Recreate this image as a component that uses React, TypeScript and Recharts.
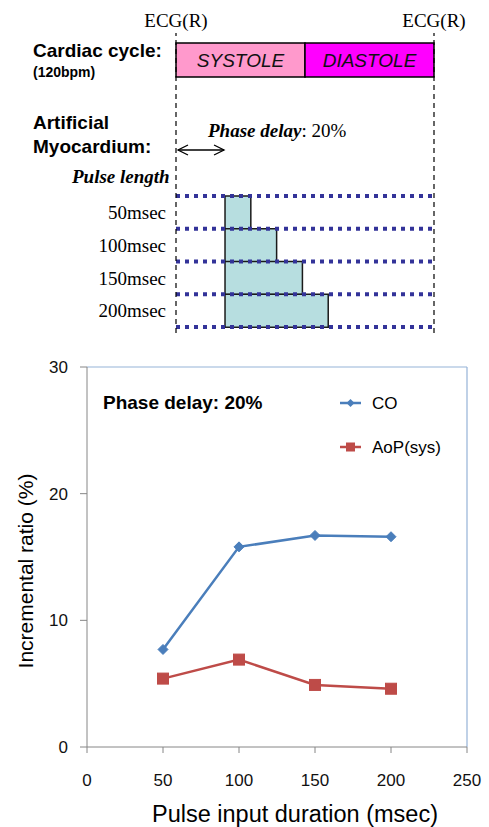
import React from 'react';
import {
  BarChart, Bar, XAxis, YAxis, ReferenceLine, LabelList, LineChart, Line, Legend,
  ComposedChart, Label,
} from 'recharts';

// ---------- diagram data ----------
const cyclePhaseNames = ['SYSTOLE', 'DIASTOLE'];
const cyclePhaseMs = [250, 250];
const cycleLengthMs = 500;
const phaseDelayMs = 95;
const pulseLabels = ['50msec', '100msec', '150msec', '200msec'];
const pulseLengthsMs = [50, 100, 150, 200];
const ecgMarks = [0, 500];

// ---------- chart data ----------
const durations = [50, 100, 150, 200];
const coValues = [7.7, 15.8, 16.7, 16.6];
const aopValues = [5.4, 6.9, 4.9, 4.6];
const xTicks = [0, 50, 100, 150, 200, 250];
const yTicks = [0, 10, 20, 30];

const SANS = 'Liberation Sans, Arial, sans-serif';
const SERIF = 'Liberation Serif, Times New Roman, serif';
const CO_COLOR = '#4A7EBB';
const AOP_COLOR = '#BE4B48';
const AXIS_GRAY = '#868686';
const BORDER_BLUE = '#95B3D7';

const cycleData = [
  { row: 'cycle', [cyclePhaseNames[0]]: cyclePhaseMs[0], [cyclePhaseNames[1]]: cyclePhaseMs[1] },
];
const pulseData = pulseLabels.map((label, i) => ({
  label,
  delay: phaseDelayMs,
  length: pulseLengthsMs[i],
}));
const lineData = durations.map((d, i) => ({ d, CO: coValues[i], AoP: aopValues[i] }));
const frameData = ecgMarks.map((t) => ({ t, v: 0 }));

const ARROW_LEVEL = 117;

const ArrowShape = (p: any) => {
  const { x1, y1, x2 } = p;
  const xs = x1 + 2;
  const xe = x2 - 1;
  const h = 5;
  const w = 10;
  return (
    <g stroke="#000" strokeWidth={1.3} fill="none">
      <line x1={xs} y1={y1} x2={xe} y2={y1} />
      <polyline points={`${xs + w},${y1 - h} ${xs},${y1} ${xs + w},${y1 + h}`} />
      <polyline points={`${xe - w},${y1 - h} ${xe},${y1} ${xe - w},${y1 + h}`} />
    </g>
  );
};

const Diamond = (props: any) => {
  const { cx, cy } = props;
  if (cx == null || cy == null) return null;
  const r = 5;
  return (
    <polygon
      points={`${cx},${cy - r} ${cx + r},${cy} ${cx},${cy + r} ${cx - r},${cy}`}
      fill={CO_COLOR}
      stroke={CO_COLOR}
    />
  );
};

const Square = (props: any) => {
  const { cx, cy } = props;
  if (cx == null || cy == null) return null;
  const s = 11;
  return <rect x={cx - s / 2} y={cy - s / 2} width={s} height={s} fill={AOP_COLOR} stroke={AOP_COLOR} />;
};

const renderLegend = () => (
  <svg width={150} height={80}>
    <g>
      <line x1={10} y1={13} x2={31} y2={13} stroke={CO_COLOR} strokeWidth={2.5} />
      <polygon points="20.5,9 24.5,13 20.5,17 16.5,13" fill={CO_COLOR} />
      <text x={42} y={13} dominantBaseline="central" fontFamily={SANS} fontSize={17} fill="#000">CO</text>
    </g>
    <g>
      <line x1={10} y1={57} x2={31} y2={57} stroke={AOP_COLOR} strokeWidth={2.5} />
      <rect x={16} y={52.5} width={9} height={9} fill={AOP_COLOR} />
      <text x={42} y={57} dominantBaseline="central" fontFamily={SANS} fontSize={17} fill="#000">AoP(sys)</text>
    </g>
  </svg>
);

const YLabelContent = (props: any) => {
  const vb = props.viewBox || {};
  const x = vb.x + 15;
  const y = vb.y + vb.height / 2 + 14;
  return (
    <text
      x={x}
      y={y}
      transform={`rotate(-90 ${x} ${y})`}
      textAnchor="middle"
      dominantBaseline="central"
      fontFamily={SANS}
      fontSize={21}
      fill="#000"
    >
      Incremental ratio (%)
    </text>
  );
};

const XLabelContent = (props: any) => {
  const vb = props.viewBox || {};
  const x = vb.x + vb.width / 2 + 18;
  const y = vb.y + vb.height - 5;
  return (
    <text x={x} y={y} textAnchor="middle" fontFamily={SANS} fontSize={23.5} fill="#000">
      Pulse input duration (msec)
    </text>
  );
};

const abs = (top: number): React.CSSProperties => ({ position: 'absolute', left: 0, top });

export default function App() {
  return (
    <div style={{ position: 'absolute', left: 0, top: 0, width: 489, height: 827, background: '#fff', overflow: 'hidden' }}>
      {/* cardiac cycle bar */}
      <div style={abs(0)}>
        <BarChart
          width={489}
          height={340}
          data={cycleData}
          layout="vertical"
          barCategoryGap={0}
          margin={{ top: 43, right: 55, bottom: 263, left: 176 }}
        >
          <XAxis type="number" domain={[0, cycleLengthMs]} hide />
          <YAxis type="category" dataKey="row" hide />
          {cyclePhaseNames.map((name, i) => (
            <Bar
              key={name}
              dataKey={name}
              stackId="cycle"
              fill={i === 0 ? '#FF99CC' : '#FF00FF'}
              stroke="#000"
              strokeWidth={1.5}
              isAnimationActive={false}
            >
              <LabelList
                dataKey={name}
                position="center"
                formatter={() => name}
                style={{ fontFamily: SANS, fontStyle: 'italic', fontSize: 19, fill: '#111' }}
              />
            </Bar>
          ))}
        </BarChart>
      </div>

      {/* pulse length rows */}
      <div style={abs(0)}>
        <BarChart
          width={489}
          height={340}
          data={pulseData}
          layout="vertical"
          barCategoryGap={0}
          margin={{ top: 196, right: 55, bottom: 13, left: 76 }}
        >
          <XAxis type="number" domain={[0, cycleLengthMs]} hide />
          <YAxis
            type="category"
            dataKey="label"
            width={100}
            axisLine={false}
            tickLine={false}
            tickSize={0}
            tickMargin={10}
            tick={{ fontFamily: SERIF, fontSize: 19, fill: '#000' }}
          />
          <Bar dataKey="delay" stackId="p" fill="transparent" stroke="none" isAnimationActive={false} />
          <Bar dataKey="length" stackId="p" fill="#B7DEE0" stroke="#1a1a1a" strokeWidth={1.5} isAnimationActive={false} />
          {pulseLabels.map((l) => (
            <ReferenceLine key={l} y={l} position="start" stroke="#333399" strokeWidth={4} strokeDasharray="4 5" />
          ))}
          <ReferenceLine
            y={pulseLabels[pulseLabels.length - 1]}
            position="end"
            stroke="#333399"
            strokeWidth={4}
            strokeDasharray="4 5"
          />
        </BarChart>
      </div>

      {/* ECG frame lines and phase delay arrow */}
      <div style={abs(0)}>
        <ComposedChart
          width={489}
          height={340}
          data={frameData}
          margin={{ top: 33, right: 55, bottom: 7, left: 176 }}
        >
          <XAxis type="number" dataKey="t" domain={[0, cycleLengthMs]} hide />
          <YAxis type="number" domain={[0, 300]} reversed hide />
          <Line dataKey="v" stroke="none" dot={false} activeDot={false} legendType="none" isAnimationActive={false} />
          {ecgMarks.map((t) => (
            <ReferenceLine
              key={t}
              x={t}
              stroke="#000"
              strokeWidth={1.2}
              strokeDasharray="5 4"
              label={{
                value: 'ECG(R)',
                position: 'top',
                offset: 6,
                style: { fontFamily: SERIF, fontSize: 19, fill: '#000' },
              }}
            />
          ))}
          <ReferenceLine
            segment={[{ x: 0, y: ARROW_LEVEL }, { x: phaseDelayMs, y: ARROW_LEVEL }]}
            shape={ArrowShape}
          />
        </ComposedChart>
      </div>

      {/* line chart */}
      <div style={abs(340)}>
        <LineChart width={489} height={487} data={lineData} margin={{ top: 27, right: 22, bottom: 0, left: 10 }}>
          <XAxis
            type="number"
            dataKey="d"
            domain={[0, 250]}
            ticks={xTicks}
            height={80}
            stroke={AXIS_GRAY}
            tickSize={6}
            tickMargin={21}
            tick={{ fontFamily: SANS, fontSize: 17, fill: '#111' }}
            label={<Label content={XLabelContent} />}
          />
          <YAxis
            type="number"
            domain={[0, 30]}
            ticks={yTicks}
            width={77}
            stroke={AXIS_GRAY}
            tickSize={7}
            tickMargin={12}
            tick={{ fontFamily: SANS, fontSize: 17, fill: '#111' }}
            label={<Label content={YLabelContent} />}
          />
          <ReferenceLine y={30} stroke={BORDER_BLUE} strokeWidth={1.2} />
          <ReferenceLine x={250} stroke={BORDER_BLUE} strokeWidth={1.2} />
          <Line
            dataKey="CO"
            stroke={CO_COLOR}
            strokeWidth={2.5}
            dot={<Diamond />}
            isAnimationActive={false}
          />
          <Line
            dataKey="AoP"
            stroke={AOP_COLOR}
            strokeWidth={2.5}
            dot={<Square />}
            isAnimationActive={false}
          />
          <Legend
            layout="horizontal"
            align="center"
            verticalAlign="middle"
            content={renderLegend}
            wrapperStyle={{ position: 'absolute', left: 330, top: 50, width: 150, height: 80 }}
          />
        </LineChart>
      </div>

      {/* static annotations */}
      <svg width={489} height={827} style={{ position: 'absolute', left: 0, top: 0, pointerEvents: 'none' }}>
        <text x={33} y={57} fontFamily={SANS} fontWeight="bold" fontSize={19} fill="#000">Cardiac cycle:</text>
        <text x={33} y={77} fontFamily={SANS} fontWeight="bold" fontSize={14} fill="#000">(120bpm)</text>
        <text x={33} y={129} fontFamily={SANS} fontWeight="bold" fontSize={19} fill="#000">Artificial</text>
        <text x={33} y={153} fontFamily={SANS} fontWeight="bold" fontSize={19} fill="#000">Myocardium:</text>
        <text x={208} y={137} fontFamily={SERIF} fontSize={19} fill="#000">
          <tspan fontWeight="bold" fontStyle="italic">Phase delay</tspan>
          <tspan>: 20%</tspan>
        </text>
        <text x={72} y={183} fontFamily={SERIF} fontWeight="bold" fontStyle="italic" fontSize={19} fill="#000">
          Pulse length
        </text>
        <text x={103} y={409} fontFamily={SANS} fontWeight="bold" fontSize={19} fill="#000">Phase delay: 20%</text>
      </svg>
    </div>
  );
}
